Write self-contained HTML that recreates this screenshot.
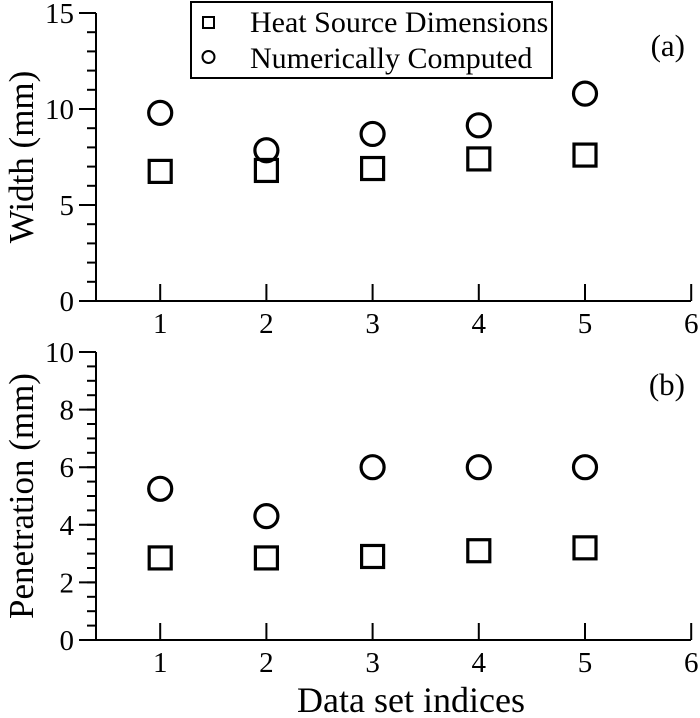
<!DOCTYPE html>
<html><head><meta charset="utf-8"><style>
html,body{margin:0;padding:0;background:#fff}
svg{display:block;font-family:"Liberation Serif",serif}
</style></head><body>
<svg id="chart" width="700" height="718" viewBox="0 0 700 718"></svg>
<script>
const categories = [1, 2, 3, 4, 5];
const xTicks = [1, 2, 3, 4, 5, 6];
const widthSquares = [6.75, 6.8, 6.9, 7.4, 7.6];
const widthCircles = [9.8, 7.85, 8.7, 9.15, 10.8];
const penSquares = [2.85, 2.85, 2.9, 3.1, 3.2];
const penCircles = [5.25, 4.3, 6.0, 6.0, 6.0];
const widthTicks = [0, 5, 10, 15];
const penTicks = [0, 2, 4, 6, 8, 10];

const NS = "http://www.w3.org/2000/svg";
const svg = document.getElementById('chart');
function el(tag, attrs, parent) {
  const e = document.createElementNS(NS, tag);
  for (const k in attrs) e.setAttribute(k, attrs[k]);
  (parent || svg).appendChild(e);
  return e;
}
const xScale = v => 54 + (v) * 106.2;
const LEFT = 96, RIGHT = 691;

function panel(name, top, bottom, ymax, majorTicks, minorStep, sq, ci, tag, tagY, title) {
  const g = el('g', {});
  
  
  const y = v => bottom - (v / ymax) * (bottom - top);
  const ya = el('line', {x1: LEFT, y1: top, x2: LEFT, y2: bottom, stroke: '#000', 'stroke-width': 2}, g);
  
  
  const xa = el('line', {x1: 79, y1: bottom, x2: RIGHT, y2: bottom, stroke: '#000', 'stroke-width': 2}, g);
  
  
  for (let v = 0; v <= ymax + 1e-9; v += minorStep) {
    el('line', {x1: 87, y1: y(v), x2: LEFT, y2: y(v), stroke: '#000', 'stroke-width': 2}, g);
  }
  majorTicks.forEach(v => {
    el('line', {x1: 79, y1: y(v), x2: LEFT, y2: y(v), stroke: '#000', 'stroke-width': 2}, g);
    const t = el('text', {x: 74, y: y(v) + 10, 'text-anchor': 'end', 'font-size': 29}, g);
    t.textContent = v;
    
    
  });
  xTicks.forEach(v => {
    el('line', {x1: xScale(v), y1: bottom - 17, x2: xScale(v), y2: bottom, stroke: '#000', 'stroke-width': 2}, g);
    const t = el('text', {x: xScale(v), y: bottom + 32, 'text-anchor': 'middle', 'font-size': 29}, g);
    t.textContent = v;
    
    
  });
  categories.forEach((c, i) => {
    const s = el('rect', {x: xScale(c) - 11, y: y(sq[i]) - 11, width: 22, height: 22, fill: 'none', stroke: '#000', 'stroke-width': 3.2}, g);
    
    
    const o = el('circle', {cx: xScale(c), cy: y(ci[i]), r: 11.5, fill: 'none', stroke: '#000', 'stroke-width': 3.2}, g);
    
    
  });
  const lt = el('text', {x: 685, y: tagY, 'text-anchor': 'end', 'font-size': 31}, g);
  lt.textContent = tag;
  
  
  const yt = el('text', {x: 0, y: 0, 'text-anchor': 'middle', 'font-size': 35, transform: `translate(33,${(top + bottom) / 2}) rotate(-90)`}, g);
  yt.textContent = title;
  
  
}
panel('width', 13, 301, 15, widthTicks, 1, widthSquares, widthCircles, '(a)', 56, 'Width (mm)');
panel('penetration', 352, 640, 10, penTicks, 0.5, penSquares, penCircles, '(b)', 395, 'Penetration (mm)');

const xt = el('text', {x: 411, y: 712, 'text-anchor': 'middle', 'font-size': 36});
xt.textContent = 'Data set indices';



const lg = el('g', {});


el('rect', {x: 191, y: 2, width: 361, height: 76, fill: '#fff', stroke: '#000', 'stroke-width': 2}, lg);
el('rect', {x: 203, y: 17, width: 11, height: 11, fill: 'none', stroke: '#000', 'stroke-width': 2}, lg);
el('circle', {cx: 208.5, cy: 57, r: 6, fill: 'none', stroke: '#000', 'stroke-width': 2}, lg);
const l1 = el('text', {x: 250, y: 32, 'font-size': 30}, lg);
l1.textContent = 'Heat Source Dimensions';


const l2 = el('text', {x: 250, y: 68, 'font-size': 30}, lg);
l2.textContent = 'Numerically Computed';


</script>
</body></html>
